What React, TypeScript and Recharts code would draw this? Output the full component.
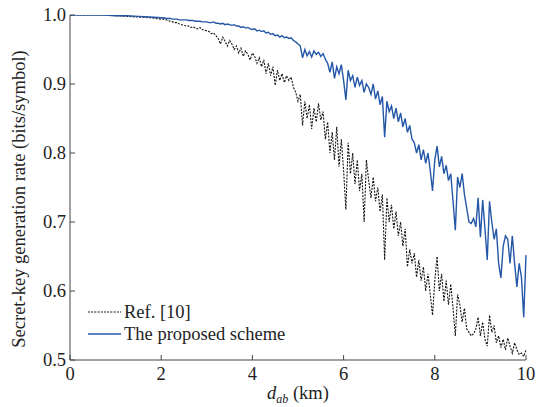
import React from 'react';
import { LineChart, Line, XAxis, YAxis } from 'recharts';

const distances = [
  0, 0.25, 0.5, 0.75, 1, 1.25, 1.5, 1.75, 2,
  2.05, 2.1, 2.15, 2.2, 2.25, 2.3, 2.35, 2.4, 2.45, 2.5,
  2.55, 2.6, 2.65, 2.7, 2.75, 2.8, 2.85, 2.9, 2.95, 3,
  3.05, 3.1, 3.15, 3.2, 3.25, 3.3, 3.35, 3.4, 3.45, 3.5,
  3.55, 3.6, 3.65, 3.7, 3.75, 3.8, 3.85, 3.9, 3.95, 4,
  4.05, 4.1, 4.15, 4.2, 4.25, 4.3, 4.35, 4.4, 4.45, 4.5,
  4.55, 4.6, 4.65, 4.7, 4.75, 4.8, 4.85, 4.9, 4.95, 5,
  5.05, 5.1, 5.15, 5.2, 5.25, 5.3, 5.35, 5.4, 5.45, 5.5,
  5.55, 5.6, 5.65, 5.7, 5.75, 5.8, 5.85, 5.9, 5.95, 6,
  6.05, 6.1, 6.15, 6.2, 6.25, 6.3, 6.35, 6.4, 6.45, 6.5,
  6.55, 6.6, 6.65, 6.7, 6.75, 6.8, 6.85, 6.9, 6.95, 7,
  7.05, 7.1, 7.15, 7.2, 7.25, 7.3, 7.35, 7.4, 7.45, 7.5,
  7.55, 7.6, 7.65, 7.7, 7.75, 7.8, 7.85, 7.9, 7.95, 8,
  8.05, 8.1, 8.15, 8.2, 8.25, 8.3, 8.35, 8.4, 8.45, 8.5,
  8.55, 8.6, 8.65, 8.7, 8.75, 8.8, 8.85, 8.9, 8.95, 9,
  9.05, 9.1, 9.15, 9.2, 9.25, 9.3, 9.35, 9.4, 9.45, 9.5,
  9.55, 9.6, 9.65, 9.7, 9.75, 9.8, 9.85, 9.9, 9.95, 10,
];

const refScheme = [
  1, 1, 1, 1, 0.999, 0.998, 0.997, 0.996, 0.994,
  0.994, 0.993, 0.992, 0.991, 0.99, 0.989, 0.989, 0.987, 0.986, 0.985,
  0.984, 0.984, 0.982, 0.983, 0.981, 0.98, 0.982, 0.979, 0.978, 0.977,
  0.976, 0.973, 0.974, 0.97, 0.966, 0.958, 0.968, 0.962, 0.955, 0.963,
  0.958, 0.95, 0.955, 0.945, 0.952, 0.94, 0.948, 0.943, 0.935, 0.945,
  0.94, 0.93, 0.938, 0.925, 0.935, 0.915, 0.93, 0.912, 0.925, 0.898,
  0.92, 0.905, 0.915, 0.902, 0.912, 0.905, 0.91, 0.895, 0.888, 0.875,
  0.885, 0.84, 0.875, 0.85, 0.87, 0.835, 0.865, 0.845, 0.872, 0.848,
  0.86, 0.82, 0.845, 0.8, 0.83, 0.79, 0.838, 0.78, 0.82, 0.775,
  0.718, 0.815, 0.77, 0.8, 0.755, 0.79, 0.745, 0.77, 0.7, 0.79,
  0.76, 0.735, 0.765, 0.73, 0.75, 0.715, 0.74, 0.645, 0.735, 0.7,
  0.725, 0.69, 0.715, 0.68, 0.7, 0.665, 0.69, 0.635, 0.66, 0.64,
  0.655, 0.62, 0.645, 0.615, 0.635, 0.6, 0.625, 0.595, 0.565, 0.615,
  0.65, 0.6, 0.625, 0.585, 0.615, 0.58, 0.61, 0.575, 0.535, 0.595,
  0.58, 0.555, 0.575, 0.545, 0.54, 0.535, 0.538, 0.545, 0.562, 0.535,
  0.555, 0.53, 0.52, 0.565, 0.54, 0.55, 0.525, 0.535, 0.518, 0.53,
  0.515, 0.532, 0.52, 0.51, 0.525, 0.515, 0.508, 0.51, 0.505, 0.515,
];

const proposedScheme = [
  1, 1, 1, 1, 0.999, 0.999, 0.998, 0.997, 0.996,
  0.996, 0.995, 0.995, 0.995, 0.994, 0.994, 0.994, 0.993, 0.993, 0.993,
  0.993, 0.992, 0.992, 0.992, 0.991, 0.991, 0.991, 0.99, 0.99, 0.99,
  0.989, 0.989, 0.99, 0.988, 0.988, 0.987, 0.988, 0.986, 0.987, 0.986,
  0.985, 0.986, 0.984, 0.984, 0.982, 0.983, 0.981, 0.982, 0.98, 0.979,
  0.98, 0.977, 0.978, 0.976, 0.977, 0.974, 0.975, 0.972, 0.973, 0.97,
  0.971, 0.968, 0.97, 0.967, 0.968, 0.966, 0.967, 0.963, 0.961, 0.958,
  0.955, 0.938, 0.95, 0.941, 0.947, 0.939, 0.948, 0.943, 0.946, 0.94,
  0.944, 0.936, 0.93, 0.917, 0.932, 0.908, 0.925, 0.915, 0.928, 0.905,
  0.877, 0.92, 0.905, 0.912, 0.895, 0.91, 0.898, 0.905, 0.888, 0.9,
  0.895, 0.885, 0.9, 0.878, 0.89, 0.87, 0.882, 0.823, 0.875, 0.86,
  0.868, 0.85, 0.865, 0.845, 0.858, 0.838, 0.85, 0.83, 0.84, 0.82,
  0.815, 0.8, 0.812, 0.79, 0.805, 0.785, 0.8, 0.775, 0.745, 0.79,
  0.81, 0.78, 0.795, 0.77, 0.782, 0.76, 0.77, 0.73, 0.688, 0.765,
  0.75, 0.77, 0.74, 0.72, 0.7, 0.698, 0.705, 0.693, 0.735, 0.678,
  0.732, 0.69, 0.645, 0.73, 0.7, 0.675, 0.69, 0.64, 0.619, 0.665,
  0.68, 0.675, 0.64, 0.68, 0.64, 0.606, 0.64, 0.62, 0.562, 0.652,
];

const xTicks = [0, 2, 4, 6, 8, 10];
const yTicks = [0.5, 0.6, 0.7, 0.8, 0.9, 1.0];
const seriesNames = ['Ref. [10]', 'The proposed scheme'];

const data = distances.map((d, i) => ({ d, ref: refScheme[i], prop: proposedScheme[i] }));

const FONT = "'Liberation Serif', 'Times New Roman', serif";
const FS = 18.5;
const AXIS = '#444';
const BLUE = '#2457a8';

const BottomTick = (props: any) => {
  const { x, y, payload } = props;
  return (
    <g>
      <line x1={x} x2={x} y1={y} y2={y - 5} stroke={AXIS} strokeWidth={1} />
      <text x={x} y={y + 20} textAnchor="middle" fontFamily={FONT} fontSize={FS} fill="#222">
        {payload.value}
      </text>
    </g>
  );
};
const TopTick = (props: any) => {
  const { x, y } = props;
  return <line x1={x} x2={x} y1={y} y2={y + 5} stroke={AXIS} strokeWidth={1} />;
};
const LeftTick = (props: any) => {
  const { x, y, payload } = props;
  return (
    <g>
      <line x1={x} x2={x + 5} y1={y} y2={y} stroke={AXIS} strokeWidth={1} />
      <text x={x - 4} y={y + 6} textAnchor="end" fontFamily={FONT} fontSize={FS} fill="#222">
        {Number(payload.value).toFixed(1)}
      </text>
    </g>
  );
};
const RightTick = (props: any) => {
  const { x, y } = props;
  return <line x1={x} x2={x - 5} y1={y} y2={y} stroke={AXIS} strokeWidth={1} />;
};

const XLabel = () => (
  <text x={298} y={399} textAnchor="middle" fontFamily={FONT} fontSize={FS} fill="#222">
    <tspan fontStyle="italic">d</tspan>
    <tspan fontStyle="italic" fontSize={12} dy={4}>ab</tspan>
    <tspan dy={-4}> (km)</tspan>
  </text>
);

const YLabel = () => (
  <text
    x={19}
    y={199}
    transform="rotate(-90, 19, 199)"
    textAnchor="middle"
    dominantBaseline="central"
    fontFamily={FONT}
    fontSize={FS}
    fill="#222"
  >
    Secret-key generation rate (bits/symbol)
  </text>
);

const LegendBox = () => (
  <div
    style={{
      position: 'absolute',
      left: 88,
      top: 301,
      fontFamily: FONT,
      fontSize: FS,
      color: '#222',
      lineHeight: '22px',
      whiteSpace: 'nowrap',
    }}
  >
    <div style={{ display: 'flex', alignItems: 'center', height: 22 }}>
      <svg width={34} height={22}>
        <line x1={0} x2={33} y1={11} y2={11} stroke="#111" strokeWidth={1} strokeDasharray="2 1.2" />
      </svg>
      <span style={{ marginLeft: 2 }}>{seriesNames[0]}</span>
    </div>
    <div style={{ display: 'flex', alignItems: 'center', height: 22 }}>
      <svg width={34} height={22}>
        <line x1={0} x2={33} y1={11} y2={11} stroke={BLUE} strokeWidth={1.3} />
      </svg>
      <span style={{ marginLeft: 2 }}>{seriesNames[1]}</span>
    </div>
  </div>
);

export default function App() {
  return (
    <div style={{ position: 'absolute', left: 0, top: 0, width: 537, height: 407, background: '#fff' }}>
      <LineChart
        width={537}
        height={407}
        data={data}
        margin={{ top: 15, right: 11, bottom: 0, left: 0 }}
      >
        <XAxis
          dataKey="d"
          type="number"
          domain={[0, 10]}
          ticks={xTicks}
          height={47}
          tickSize={0}
          tickMargin={0}
          tickLine={false}
          tick={<BottomTick />}
          axisLine={{ stroke: AXIS, strokeWidth: 1 }}
          label={<XLabel />}
          interval={0}
        />
        <XAxis
          xAxisId="top"
          orientation="top"
          dataKey="d"
          type="number"
          domain={[0, 10]}
          ticks={xTicks}
          height={0}
          tickSize={0}
          tickMargin={0}
          tickLine={false}
          tick={<TopTick />}
          axisLine={{ stroke: '#666', strokeWidth: 1 }}
          interval={0}
        />
        <YAxis
          type="number"
          domain={[0.5, 1]}
          ticks={yTicks}
          width={70}
          tickSize={0}
          tickMargin={0}
          tickLine={false}
          tick={<LeftTick />}
          axisLine={{ stroke: AXIS, strokeWidth: 1 }}
          label={<YLabel />}
          allowDataOverflow
          interval={0}
        />
        <YAxis
          yAxisId="right"
          orientation="right"
          type="number"
          domain={[0.5, 1]}
          ticks={yTicks}
          width={0}
          tickSize={0}
          tickMargin={0}
          tickLine={false}
          tick={<RightTick />}
          axisLine={{ stroke: '#666', strokeWidth: 1 }}
          allowDataOverflow
          interval={0}
        />
        <Line
          type="linear"
          dataKey="ref"
          name={seriesNames[0]}
          stroke="#111"
          strokeWidth={1.1}
          strokeDasharray="2 1.3"
          dot={false}
          isAnimationActive={false}
        />
        <Line
          type="linear"
          dataKey="prop"
          name={seriesNames[1]}
          stroke={BLUE}
          strokeWidth={1.4}
          dot={false}
          isAnimationActive={false}
        />
      </LineChart>
      <LegendBox />
    </div>
  );
}
